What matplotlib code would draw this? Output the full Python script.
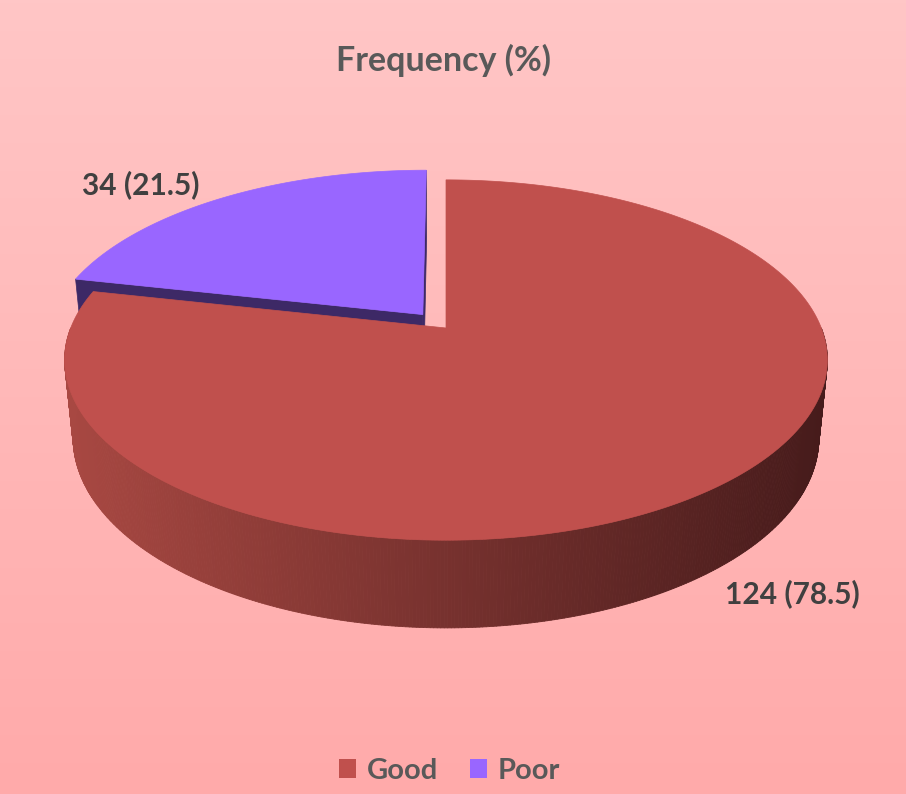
import numpy as np
import matplotlib.pyplot as plt
from matplotlib.patches import Polygon, Patch
from matplotlib.collections import PolyCollection

# data
categories = ['Good', 'Poor']
counts = [124, 34]
percents = [78.5, 21.5]

top_colors = ['#C0504D', '#9966FF']
side_dark = ['#4A1D1D', '#3D2966']

plt.rcParams['font.family'] = ['Lato', 'DejaVu Sans']

W, H = 906, 794
fig = plt.figure(figsize=(W / 100, H / 100), dpi=100)
ax = fig.add_axes([0, 0, 1, 1])
ax.set_xlim(0, W)
ax.set_ylim(H, 0)
ax.axis('off')

# pink background gradient
grad = np.linspace(0, 1, 256)[:, None]
top_c = np.array([255, 198, 198]) / 255
bot_c = np.array([255, 170, 170]) / 255
bg = top_c + (bot_c - top_c) * grad[..., None]
ax.imshow(bg, extent=[0, W, H, 0], aspect='auto', zorder=0)

# simple perspective camera for the 3d pie
PHI = np.radians(27.7)
CP, SP = np.cos(PHI), np.sin(PHI)
D = 4.98
K = 1869
CX, CY = 446, 328
THICK = 0.237
EXPLODE = [0.0, 0.1]


def proj(x, y, z):
    depth = D - y * CP - z * SP
    X = CX + K * x / depth
    Y = CY - K * (z * CP - y * SP) / depth
    return X, Y


def rim(t0, t1, z, ox, oy, n=240):
    th = np.radians(np.linspace(t0, t1, n))
    return proj(ox + np.sin(th), oy - np.cos(th), z)


def cut_face(t, ox, oy):
    th = np.radians(t)
    dx, dy = np.sin(th), -np.cos(th)
    p = [proj(ox, oy, 0), proj(ox + dx, oy + dy, 0),
         proj(ox + dx, oy + dy, -THICK), proj(ox, oy, -THICK)]
    return p


total = sum(counts)
angles = np.cumsum([0] + [360 * c / total for c in counts])

# poor slice first (it sits behind)
t0, t1 = angles[1], angles[2]
m = np.radians((t0 + t1) / 2)
ox, oy = EXPLODE[1] * np.sin(m), -EXPLODE[1] * np.cos(m)
for t in (t1, t0):
    ax.add_patch(Polygon(cut_face(t, ox, oy), closed=True, fc=side_dark[1],
                         ec=side_dark[1], lw=0.5, zorder=2))
xs, ys = rim(t0, t1, 0, ox, oy)
pts = np.vstack([[proj(ox, oy, 0)], np.column_stack([xs, ys])])
ax.add_patch(Polygon(pts, closed=True, fc=top_colors[1], ec=top_colors[1],
                     lw=0.5, zorder=3))

# good slice: shaded outer wall then top
t0, t1 = angles[0], angles[1]
ox, oy = 0.0, 0.0
a0, a1 = max(t0, 90), min(t1, 270)
xt, yt = rim(a0, a1, 0, ox, oy, 400)
xb, yb = rim(a0, a1, -THICK, ox, oy, 400)
left_rgb = np.array([168, 72, 66]) / 255
right_rgb = np.array([70, 27, 27]) / 255
x_lo, x_hi = xt.min(), xt.max()
quads, cols = [], []
for i in range(len(xt) - 1):
    quads.append([(xt[i], yt[i]), (xt[i + 1], yt[i + 1]),
                  (xb[i + 1], yb[i + 1]), (xb[i], yb[i])])
    f = ((xt[i] + xt[i + 1]) / 2 - x_lo) / (x_hi - x_lo)
    cols.append(left_rgb + (right_rgb - left_rgb) * f)
ax.add_collection(PolyCollection(quads, facecolors=cols, edgecolors=cols,
                                 linewidths=0.6, zorder=4))
xs, ys = rim(t0, t1, 0, ox, oy, 600)
pts = np.vstack([[proj(ox, oy, 0)], np.column_stack([xs, ys])])
ax.add_patch(Polygon(pts, closed=True, fc=top_colors[0], ec=top_colors[0],
                     lw=0.5, zorder=5))

# data labels
label_pos = [(792, 594), (141, 185)]
for (lx, ly), n, p in zip(label_pos, counts, percents):
    ax.text(lx, ly, f'{n} ({p})', ha='center', va='center', fontsize=21.5,
            fontweight='bold', color='#404040', zorder=6)

ax.text(444, 60, 'Frequency (%)', ha='center', va='center', fontsize=24.5,
        fontweight='bold', color='#595959', zorder=6)

handles = [Patch(fc=c, ec='none') for c in top_colors]
ax.legend(handles, categories, loc='center', bbox_to_anchor=(0.496, 1 - 771 / H),
          ncol=2, frameon=False, handlelength=0.6,
          handleheight=0.6, handletextpad=0.35, columnspacing=1.1,
          labelcolor='#595959', prop={'weight': 'bold', 'size': 21})

fig.savefig('out.png', dpi=100)
